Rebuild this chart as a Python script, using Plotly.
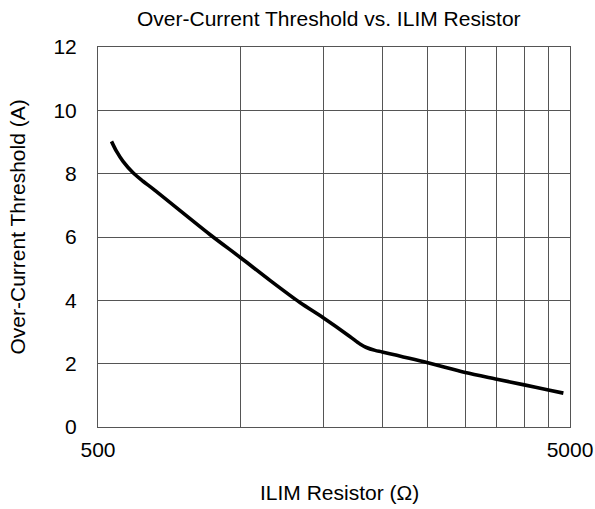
import plotly.graph_objects as go

resistor = [534, 547, 565, 594, 623, 654, 863, 1000, 1157, 1339, 1500, 1708, 1795, 1852, 1932, 2000, 2500, 3000, 3500, 4000, 4500, 4841]
threshold = [9.02, 8.71, 8.39, 8.02, 7.76, 7.52, 6.08, 5.36, 4.63, 3.93, 3.45, 2.86, 2.62, 2.51, 2.42, 2.37, 2.03, 1.72, 1.51, 1.33, 1.17, 1.07]

x_grid = [500, 1000, 1500, 2000, 2500, 3000, 3500, 4000, 4500, 5000]
x_labels = ["500", "", "", "", "", "", "", "", "", "5000"]
y_ticks = [0, 2, 4, 6, 8, 10, 12]

title_text = "Over-Current Threshold vs. ILIM Resistor"
x_title = "ILIM Resistor (Ω)"
y_title = "Over-Current Threshold (A)"

font = "Liberation Sans, Arial, sans-serif"
W, H = 595, 509
L, R, T, B = 98, 25, 47, 82
pw, ph = W - L - R, H - T - B


def px(xp):
    return (xp - L) / pw


def py(yp):
    return (H - B - yp) / ph


fig = go.Figure()
fig.add_trace(go.Scatter(x=resistor, y=threshold, mode="lines",
                         line=dict(color="black", width=3.6, shape="spline", smoothing=0.8),
                         showlegend=False))

fig.update_layout(
    width=W, height=H, autosize=False,
    margin=dict(l=L, r=R, t=T, b=B),
    paper_bgcolor="white", plot_bgcolor="white",
    font=dict(family=font, size=21, color="black"),
    annotations=[
        dict(text=title_text, xref="paper", yref="paper", x=px(329), y=py(18),
             xanchor="center", yanchor="middle", showarrow=False, font=dict(size=21)),
        dict(text=x_title, xref="paper", yref="paper", x=px(339), y=py(492),
             xanchor="center", yanchor="middle", showarrow=False, font=dict(size=21)),
        dict(text=y_title, xref="paper", yref="paper", x=px(17), y=py(227.5),
             xanchor="center", yanchor="middle", showarrow=False, textangle=-90,
             font=dict(size=21)),
    ],
)
fig.update_xaxes(type="log", range=[2.69897, 3.69897], tickvals=x_grid, ticktext=x_labels,
                 showgrid=True, gridcolor="#555555", gridwidth=1,
                 showline=True, linecolor="#555555", linewidth=1, mirror=True,
                 ticks="", zeroline=False, ticklabelstandoff=4, automargin=False,
                 tickfont=dict(size=21))
fig.update_yaxes(range=[0, 12], tickvals=y_ticks,
                 showgrid=True, gridcolor="#555555", gridwidth=1,
                 showline=True, linecolor="#555555", linewidth=1, mirror=True,
                 ticks="", zeroline=False, ticklabelstandoff=16, automargin=False,
                 tickfont=dict(size=21))

fig.write_html("out.html",
               config={"responsive": False, "displayModeBar": False},
               post_script="document.body.style.margin='0';document.body.style.overflow='hidden';")
